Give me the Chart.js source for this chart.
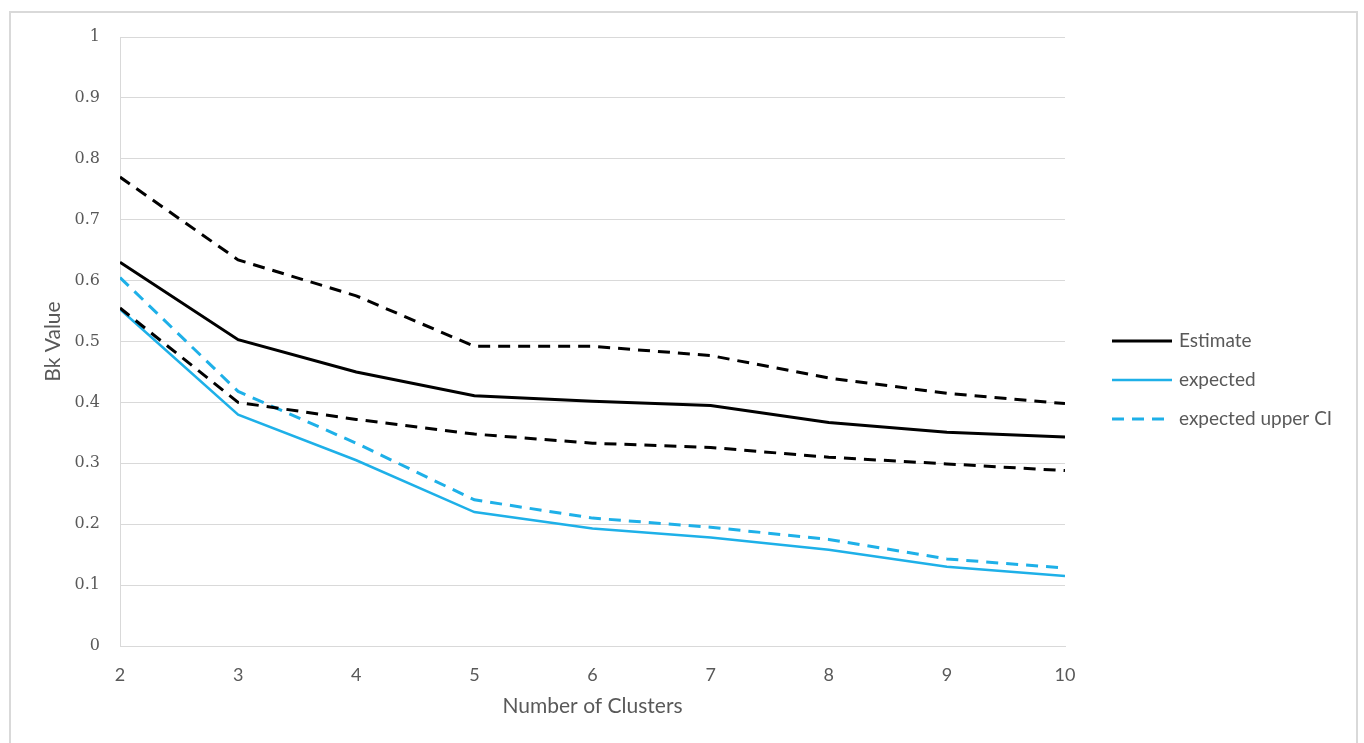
<!DOCTYPE html>
<html>
<head>
<meta charset="utf-8">
<style>
  html, body { margin: 0; padding: 0; background: #fff; }
  #wrap { position: relative; width: 1364px; height: 743px; }
</style>
<script src="https://cdn.jsdelivr.net/npm/chart.js@4.4.1/dist/chart.umd.min.js"></script>
</head>
<body>
<div id="wrap"><canvas id="c" width="1364" height="743"></canvas></div>
<script>
const clusters = [2, 3, 4, 5, 6, 7, 8, 9, 10];
const estimate = [0.630, 0.503, 0.450, 0.411, 0.402, 0.395, 0.367, 0.351, 0.343];
const estimateUpperCI = [0.770, 0.634, 0.575, 0.492, 0.492, 0.477, 0.440, 0.415, 0.398];
const estimateLowerCI = [0.555, 0.400, 0.372, 0.348, 0.333, 0.326, 0.310, 0.299, 0.288];
const expected = [0.553, 0.380, 0.305, 0.220, 0.193, 0.178, 0.158, 0.130, 0.115];
const expectedUpperCI = [0.605, 0.418, 0.333, 0.240, 0.210, 0.195, 0.175, 0.143, 0.128];
const yTicks = [0, 0.1, 0.2, 0.3, 0.4, 0.5, 0.6, 0.7, 0.8, 0.9, 1];
const legendNames = ['Estimate', 'expected', 'expected upper CI'];

const BLUE = '#1eb0e8';
const GRID = '#d9d9d9';
const TXT = '#595959';

function pts(vals) { return clusters.map((x, i) => ({x: x, y: vals[i]})); }

const frame = {
  id: 'frame',
  beforeDraw(chart) {
    const ctx = chart.ctx;
    ctx.save();
    ctx.strokeStyle = GRID;
    ctx.lineWidth = 2;
    ctx.strokeRect(10, 12, 1347, 740);
    ctx.restore();
  }
};

const customLegend = {
  id: 'customLegend',
  afterDraw(chart) {
    const ctx = chart.ctx;
    ctx.save();
    ctx.font = '19px Lato';
    ctx.fillStyle = TXT;
    ctx.textBaseline = 'middle';
    const ys = [341, 380, 419];
    legendNames.forEach((name, i) => {
      const ds = chart.data.datasets.find(d => d.label === name);
      ctx.beginPath();
      ctx.strokeStyle = ds.borderColor;
      ctx.lineWidth = ds.borderWidth;
      ctx.setLineDash(ds.borderDash || []);
      ctx.moveTo(1112, ys[i]);
      ctx.lineTo(1172, ys[i]);
      ctx.stroke();
      ctx.setLineDash([]);
      ctx.fillText(name, 1179, ys[i]);
    });
    ctx.restore();
  }
};

new Chart(document.getElementById('c'), {
  type: 'line',
  data: {
    datasets: [
      { label: 'Estimate upper CI', data: pts(estimateUpperCI), borderColor: '#000', borderWidth: 3, borderDash: [12, 8] },
      { label: 'Estimate lower CI', data: pts(estimateLowerCI), borderColor: '#000', borderWidth: 3, borderDash: [12, 8] },
      { label: 'expected upper CI', data: pts(expectedUpperCI), borderColor: BLUE, borderWidth: 3, borderDash: [12, 8] },
      { label: 'expected', data: pts(expected), borderColor: BLUE, borderWidth: 2.5 },
      { label: 'Estimate', data: pts(estimate), borderColor: '#000', borderWidth: 3 }
    ]
  },
  options: {
    responsive: false,
    animation: false,
    devicePixelRatio: 1,
    elements: { point: { radius: 0 }, line: { tension: 0, fill: false, borderCapStyle: 'butt' } },
    layout: { padding: { left: 0, right: 299, top: 37, bottom: 0 } },
    plugins: { legend: { display: false }, tooltip: { enabled: false } },
    scales: {
      x: {
        type: 'linear', min: 2, max: 10,
        afterBuildTicks: s => { s.ticks = clusters.map(v => ({value: v})); },
        afterFit: s => { s.height = 97; },
        grid: { display: false, drawTicks: false },
        border: { display: true, color: GRID, width: 1 },
        ticks: { padding: 18, color: TXT, font: { family: 'Lato', size: 18 }, maxRotation: 0 },
        title: { display: true, text: 'Number of Clusters', color: TXT, font: { family: 'Lato', size: 21 }, padding: { top: 0, bottom: 24 } }
      },
      y: {
        min: 0, max: 1,
        afterBuildTicks: s => { s.ticks = yTicks.map(v => ({value: v})); },
        afterFit: s => { s.width = 120; },
        grid: { color: GRID, lineWidth: 1, drawTicks: false },
        border: { display: true, color: GRID, width: 1 },
        ticks: { padding: 20, color: TXT, font: { family: 'DejaVu Serif', size: 16 }, callback: v => String(parseFloat(v.toFixed(1))) },
        title: { display: true, text: 'Bk Value', color: TXT, font: { family: 'Lato', size: 21 }, padding: { top: 41, bottom: 0 } }
      }
    }
  },
  plugins: [frame, customLegend]
});
</script>
</body>
</html>
